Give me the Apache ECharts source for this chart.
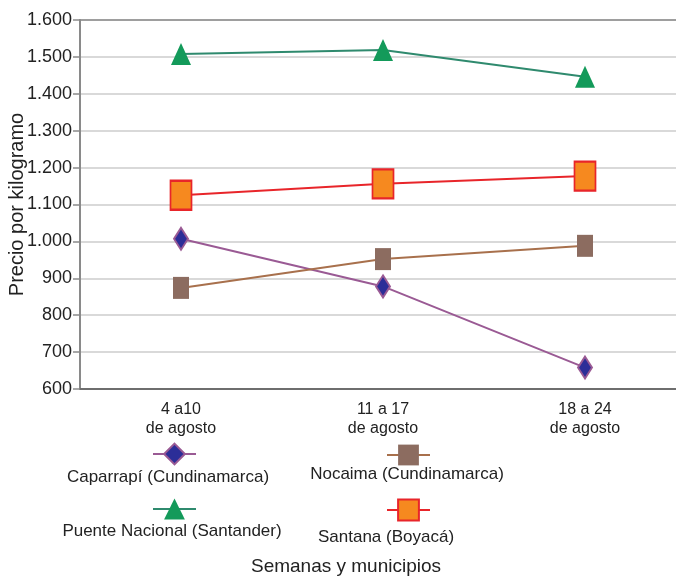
<!DOCTYPE html>
<html><head><meta charset="utf-8">
<script src="https://cdn.jsdelivr.net/npm/echarts@6/dist/echarts.min.js"></script>
<style>html,body{margin:0;padding:0;background:#fff}#c{width:676px;height:576px}</style>
</head><body><div id="c"></div>
<script>
const categories = ['4 a10\nde agosto', '11 a 17\nde agosto', '18 a 24\nde agosto'];
const caparrapi = [1007, 878, 658];
const nocaima = [874, 952, 988];
const puente = [1508, 1519, 1446];
const santana = [1125, 1156, 1177];
const seriesNames = ['Caparrapí (Cundinamarca)', 'Nocaima (Cundinamarca)', 'Puente Nacional (Santander)', 'Santana (Boyacá)'];
const yTicks = [600, 700, 800, 900, 1000, 1100, 1200, 1300, 1400, 1500, 1600];

const FONT = '"Liberation Sans", Arial, sans-serif';
const NARROW = '"Liberation Sans Narrow", "Arial Narrow", "Liberation Sans", Arial, sans-serif';
const chart = echarts.init(document.getElementById('c'));

function fmt(v){ return String(v).replace(/\B(?=(\d{3})+(?!\d))/g, '.'); }

function legendAt(name, left, top){
  return { show: true, data: [name], left: left, top: top, orient: 'horizontal',
    itemWidth: 43, itemHeight: 26, itemGap: 0, padding: 0, formatter: () => '',
    textStyle: { fontSize: 1 }, selectedMode: false };
}

chart.setOption({
  animation: false,
  backgroundColor: '#ffffff',
  grid: { left: 80, top: 20, right: -10, bottom: 187, containLabel: false, outerBoundsMode: 'none' },
  xAxis: [{
    type: 'category', data: categories, boundaryGap: true,
    axisLine: { lineStyle: { color: '#6e6e6e', width: 2 } },
    axisTick: { alignWithLabel: true, length: 8, lineStyle: { color: '#6e6e6e', width: 1.5 } },
    axisLabel: { color: '#222', fontFamily: NARROW, fontSize: 16, lineHeight: 19, margin: 11 }
  }, {
    type: 'category', data: categories, position: 'top',
    axisLine: { show: true, lineStyle: { color: '#8a8a8a', width: 1.5 } },
    axisTick: { show: false }, axisLabel: { show: false }
  }],
  yAxis: {
    type: 'value', min: 600, max: 1600, interval: 100,
    name: 'Precio por kilogramo', nameLocation: 'middle', nameGap: 53, nameRotate: 90,
    nameMoveOverlap: false,
    nameTextStyle: { color: '#222', fontFamily: FONT, fontSize: 20 },
    axisLine: { show: true, lineStyle: { color: '#8a8a8a', width: 2 } },
    axisTick: { show: true, length: 7, lineStyle: { color: '#8a8a8a', width: 1.5 } },
    axisLabel: { color: '#222', fontFamily: FONT, fontSize: 18, margin: 8,
      formatter: v => fmt(v) },
    splitLine: { lineStyle: { color: '#cdcdcd', width: 1.5 } }
  },
  legend: [
    legendAt(seriesNames[0], 152, 441),
    legendAt(seriesNames[1], 386, 442),
    legendAt(seriesNames[2], 152, 496),
    legendAt(seriesNames[3], 386, 497)
  ],
  graphic: [
    { type: 'text', x: 168, y: 477, style: { text: seriesNames[0], fill: '#222', font: '17px ' + FONT, align: 'center', verticalAlign: 'middle' } },
    { type: 'text', x: 407, y: 474, style: { text: seriesNames[1], fill: '#222', font: '17px ' + FONT, align: 'center', verticalAlign: 'middle' } },
    { type: 'text', x: 172, y: 531, style: { text: seriesNames[2], fill: '#222', font: '17px ' + FONT, align: 'center', verticalAlign: 'middle' } },
    { type: 'text', x: 386, y: 537, style: { text: seriesNames[3], fill: '#222', font: '17px ' + FONT, align: 'center', verticalAlign: 'middle' } },
    { type: 'text', x: 346, y: 567, style: { text: 'Semanas y municipios', fill: '#222', font: '19px ' + FONT, align: 'center', verticalAlign: 'middle' } }
  ],
  series: [
    { name: seriesNames[0], type: 'line', data: caparrapi, symbol: 'diamond', symbolSize: [14, 22],
      lineStyle: { color: '#9a5a94', width: 2 },
      itemStyle: { color: '#2c2e98', borderColor: '#9a5a94', borderWidth: 2 }, z: 3 },
    { name: seriesNames[1], type: 'line', data: nocaima, symbol: 'rect', symbolSize: [16, 22],
      lineStyle: { color: '#a8704c', width: 2 },
      itemStyle: { color: '#8c6c60', borderColor: '#8c6c60', borderWidth: 0 }, z: 3 },
    { name: seriesNames[2], type: 'line', data: puente, symbol: 'triangle', symbolSize: [20, 22],
      lineStyle: { color: '#2f8a6e', width: 2 },
      itemStyle: { color: '#139a5a', borderColor: '#139a5a', borderWidth: 0 }, z: 3 },
    { name: seriesNames[3], type: 'line', data: santana, symbol: 'rect', symbolSize: [21, 29],
      lineStyle: { color: '#e8252a', width: 2 },
      itemStyle: { color: '#f6891f', borderColor: '#e8252a', borderWidth: 2 }, z: 3 }
  ]
});
</script></body></html>
